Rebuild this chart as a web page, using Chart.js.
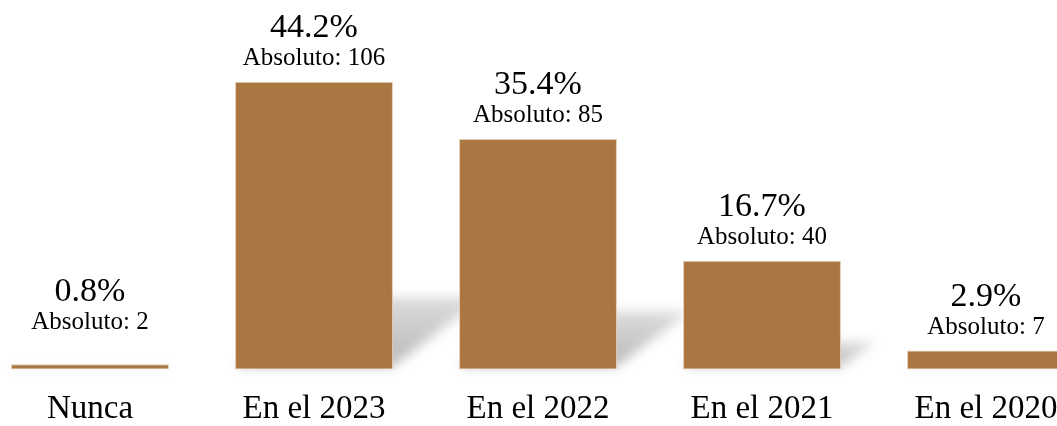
<!DOCTYPE html>
<html>
<head>
<meta charset="utf-8">
<script src="https://cdn.jsdelivr.net/npm/chart.js@4"></script>
<style>
  html, body { margin: 0; padding: 0; background: #fff; overflow: hidden; height: 426px; }
  #wrap { position: absolute; left: -22px; top: 0; width: 1120px; height: 449px; }
</style>
</head>
<body>
<div id="wrap"><canvas id="barChart"></canvas></div>
<script>
const categories = ["Nunca", "En el 2023", "En el 2022", "En el 2021", "En el 2020"];
const percentages = [0.8, 44.2, 35.4, 16.7, 2.9];
const absolutes = [2, 106, 85, 40, 7];

const serif = "'Liberation Serif', 'DejaVu Serif', serif";

// soft perspective shadow behind each bar
const barShadow = {
  id: "barShadow",
  beforeDatasetsDraw(chart) {
    const ctx = chart.ctx;
    chart.getDatasetMeta(0).data.forEach(bar => {
      const h = bar.base - bar.y;
      const x0 = bar.x - bar.width / 2;
      const x1 = bar.x + bar.width / 2;
      const sh = h * 0.25;
      const skew = sh * 1.25;
      ctx.save();
      ctx.filter = "blur(6px)";
      const g = ctx.createLinearGradient(0, bar.base, 0, bar.base - sh);
      g.addColorStop(0, "rgba(0,0,0,0.28)");
      g.addColorStop(1, "rgba(0,0,0,0.14)");
      ctx.fillStyle = g;
      ctx.beginPath();
      ctx.moveTo(x0, bar.base - 3);
      ctx.lineTo(x1, bar.base - 3);
      ctx.lineTo(x1 + skew, bar.base - sh);
      ctx.lineTo(x0 + skew, bar.base - sh);
      ctx.closePath();
      ctx.fill();
      ctx.restore();
    });
  }
};

// two-line value labels above bars
const valueLabels = {
  id: "valueLabels",
  afterDatasetsDraw(chart) {
    const ctx = chart.ctx;
    chart.getDatasetMeta(0).data.forEach((bar, i) => {
      const h = bar.base - bar.y;
      const extra = Math.max(0, (12 - h) * 2.7);
      const y = bar.y - 17 - extra;
      ctx.save();
      ctx.fillStyle = "#000";
      ctx.textAlign = "center";
      ctx.textBaseline = "alphabetic";
      ctx.font = "25px " + serif;
      ctx.fillText("Absoluto: " + absolutes[i], bar.x, y);
      ctx.font = "34px " + serif;
      ctx.fillText(percentages[i].toFixed(1) + "%", bar.x, y - 28);
      ctx.restore();
    });
  }
};

const ctx = document.getElementById("barChart").getContext("2d");

new Chart(ctx, {
  type: "bar",
  data: {
    labels: categories,
    datasets: [{
      data: percentages,
      backgroundColor: "#A87742",
      borderColor: "rgba(225, 200, 165, 0.9)",
      borderWidth: 1,
      borderSkipped: false,
      barPercentage: 0.705,
      categoryPercentage: 1
    }]
  },
  options: {
    responsive: true,
    maintainAspectRatio: false,
    animation: false,
    layout: { padding: { top: 44, left: 0, right: 0, bottom: 0 } },
    plugins: {
      legend: { display: false },
      tooltip: { enabled: false }
    },
    scales: {
      x: {
        grid: { display: false, drawTicks: false },
        border: { display: false },
        ticks: {
          color: "#000",
          padding: 20,
          font: { family: serif, size: 33 }
        }
      },
      y: {
        display: false,
        min: 0,
        max: 50
      }
    }
  },
  plugins: [barShadow, valueLabels]
});
</script>
</body>
</html>
